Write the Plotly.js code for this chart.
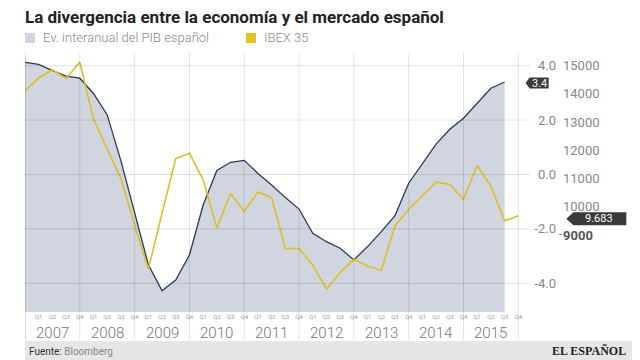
<!DOCTYPE html>
<html><head><meta charset="utf-8">
<script src="https://cdn.plot.ly/plotly-3.0.1.min.js"></script>
<style>html,body{margin:0;padding:0;background:#fff}#chart{width:640px;height:360px}</style>
</head><body><div id="chart"></div>
<script>
// ---- data ----
const periods = ['2006-T4',
  '2007-T1','2007-T2','2007-T3','2007-T4','2008-T1','2008-T2','2008-T3','2008-T4',
  '2009-T1','2009-T2','2009-T3','2009-T4','2010-T1','2010-T2','2010-T3','2010-T4',
  '2011-T1','2011-T2','2011-T3','2011-T4','2012-T1','2012-T2','2012-T3','2012-T4',
  '2013-T1','2013-T2','2013-T3','2013-T4','2014-T1','2014-T2','2014-T3','2014-T4',
  '2015-T1','2015-T2','2015-T3','2015-T4'];
const years = ['2007','2008','2009','2010','2011','2012','2013','2014','2015'];
// Ev. interanual del PIB español (%), 2006-T4 .. 2015-T3
const pib = [4.12,4.05,3.82,3.62,3.54,2.98,2.19,0.5,-1.4,-3.32,-4.27,-3.88,-2.96,-1.12,0.15,0.45,0.52,
  0.04,-0.39,-0.85,-1.27,-2.16,-2.47,-2.71,-3.14,-2.65,-2.10,-1.51,-0.32,0.41,1.12,1.66,2.07,2.62,3.17,3.4];
// IBEX 35, 2006-T4 .. 2015-T4
const ibex = [14100,14560,14850,14540,15120,13100,12050,11000,9350,7790,9770,11700,11890,10950,9250,10470,9830,
  10520,10320,8520,8520,7930,7080,7670,8140,7900,7750,9320,9910,10380,10870,10790,10260,11460,10730,9500,9683];
const pibTicks = [-4,-2,0,2,4];
const ibexTicks = [9000,10000,11000,12000,13000,14000,15000];
const seriesNames = ['Ev. interanual del PIB español','IBEX 35'];

// ---- layout helpers ----
const plotL=25, plotR=630, plotT=53, plotB=312;
const pW = plotR-plotL, pH = plotB-plotT;
const pxPerQ = 13.703;
const xMax = pW/pxPerQ;
const gridEndX = (530-plotL)/pxPerQ;
const pibRange = [-5.055, 4.467];
const ibexRange = [6272, 15443];
const pyPaper = px => (plotB-px)/pH;
const pxPaper = px => (px-plotL)/pW;

const xIdx = periods.map((p,i)=>i);
const xPib = xIdx.slice(0,pib.length);
const qLabels = periods.map(p=>'Q'+p.slice(-1));
const fmtES = v => String(v).replace(/\B(?=(\d{3})+(?!\d))/g,'.');

const colPib='#2c3a56', fillPib='#d0d5df', colIbex='#dcbf28';
const FONT='Roboto, sans-serif';

const traces = [
  {x:xPib, y:xPib.map(()=>pibRange[0]), type:'scatter', mode:'lines', line:{width:0,color:'rgba(0,0,0,0)'}, hoverinfo:'skip', showlegend:false},
  {x:xPib, y:pib, name:seriesNames[0], type:'scatter', mode:'lines', fill:'tonexty', fillcolor:fillPib,
   line:{color:colPib,width:1.3}, showlegend:false},
  {x:xIdx, y:ibex, name:seriesNames[1], yaxis:'y2', type:'scatter', mode:'lines',
   line:{color:colIbex,width:1.6}, showlegend:false}
];

const shapes = [];
// footer band
shapes.push({type:'rect', xref:'paper', yref:'paper', x0:0, x1:pxPaper(632), y0:pyPaper(341), y1:pyPaper(360),
  fillcolor:'#e6e6e6', line:{width:0}, layer:'below'});
// horizontal grid
pibTicks.forEach(t=>shapes.push({type:'line', xref:'x', yref:'y', x0:0, x1:gridEndX, y0:t, y1:t,
  line:{color:'rgba(0,0,0,0.11)', width:1}, layer:'above'}));
// vertical year boundaries
for(let i=0;i<=years.length;i++){
  shapes.push({type:'line', xref:'x', yref:'paper', x0:i*4, x1:i*4, y0:pyPaper(340), y1:1,
    line:{color: i===0?'rgba(0,0,0,0.3)':'rgba(0,0,0,0.11)', width:1}, layer:'above'});
}
// legend squares
shapes.push({type:'rect', xref:'paper', yref:'paper', x0:pxPaper(25), x1:pxPaper(35), y0:pyPaper(43), y1:pyPaper(33), fillcolor:fillPib, line:{width:0}});
shapes.push({type:'rect', xref:'paper', yref:'paper', x0:pxPaper(246), x1:pxPaper(256), y0:pyPaper(43), y1:pyPaper(33), fillcolor:'#e2c21c', line:{width:0}});
// value tags
const lastPib = pib[pib.length-1], lastIbex = ibex[ibex.length-1];
shapes.push({type:'path', xref:'x', yref:'y', xsizemode:'pixel', ysizemode:'pixel', xanchor:pib.length-1, yanchor:lastPib,
  path:'M 21 -1 L 25 4.5 L 44 4.5 L 44 -6.5 L 25 -6.5 Z', fillcolor:'#3a3a3a', line:{width:0}, layer:'above'});
shapes.push({type:'path', xref:'x', yref:'y2', xsizemode:'pixel', ysizemode:'pixel', xanchor:ibex.length-1, yanchor:lastIbex,
  path:'M 48 -3 L 55 3.5 L 108 3.5 L 108 -9.5 L 55 -9.5 Z', fillcolor:'#3a3a3a', line:{width:0}, layer:'above'});

const annotations = [];
years.forEach((y,i)=>annotations.push({xref:'x', yref:'paper', x:i*4+2, y:pyPaper(333), text:y, showarrow:false,
  xanchor:'center', yanchor:'middle', font:{family:FONT, size:15, weight:300, color:'#777'}}));
annotations.push({xref:'paper', yref:'paper', x:pxPaper(41), y:pyPaper(38), text:seriesNames[0], showarrow:false,
  xanchor:'left', yanchor:'middle', font:{family:FONT, size:13, weight:300, color:'#888'}});
annotations.push({xref:'paper', yref:'paper', x:pxPaper(262), y:pyPaper(38), text:seriesNames[1], showarrow:false,
  xanchor:'left', yanchor:'middle', font:{family:FONT, size:13, weight:300, color:'#888'}});
annotations.push({xref:'x', yref:'y', x:pib.length-1, y:lastPib, xshift:34.5, yshift:-1, text:lastPib.toFixed(1), showarrow:false,
  xanchor:'center', yanchor:'middle', font:{family:FONT, size:11, color:'#fff'}});
annotations.push({xref:'x', yref:'y2', x:ibex.length-1, y:lastIbex, xshift:81, yshift:-3, text:fmtES(lastIbex), showarrow:false,
  xanchor:'center', yanchor:'middle', font:{family:FONT, size:11, color:'#fff'}});
annotations.push({xref:'paper', yref:'y2', x:pxPaper(564), y:9000, text:'-', showarrow:false,
  xanchor:'right', yanchor:'middle', font:{family:FONT, size:11, color:'#555'}});
annotations.push({xref:'paper', yref:'paper', x:pxPaper(27), y:pyPaper(351), text:'<span style="color:#333">Fuente:</span> Bloomberg',
  showarrow:false, xanchor:'left', yanchor:'middle', font:{family:FONT, size:10, color:'#888'}});
annotations.push({xref:'paper', yref:'paper', x:pxPaper(628), y:pyPaper(351), text:'EL ESPAÑOL',
  showarrow:false, xanchor:'right', yanchor:'middle', font:{family:'"Liberation Serif", serif', size:12, weight:700, color:'#222'}});

const layout = {
  width:640, height:360,
  margin:{l:plotL, r:640-plotR, t:plotT, b:360-plotB, pad:0},
  paper_bgcolor:'#fff', plot_bgcolor:'rgba(0,0,0,0)',
  showlegend:false,
  title:{text:'La divergencia entre la economía y el mercado español', xref:'container', yref:'container',
    x:25/640, xanchor:'left', y:1-17/360, yanchor:'middle',
    font:{family:FONT, size:17, weight:700, color:'#222'}},
  xaxis:{range:[0,xMax], domain:[0,1], tickvals:xIdx.slice(1), ticktext:qLabels.slice(1),
    tickfont:{family:FONT, size:6, color:'#999'}, showgrid:false, zeroline:false, showline:false, ticks:'', fixedrange:true},
  yaxis:{range:pibRange, anchor:'free', position:pxPaper(556), side:'left', tickvals:pibTicks,
    ticktext:pibTicks.map(t=>t.toFixed(1)), tickfont:{family:FONT, size:13, color:'#888'},
    showgrid:false, zeroline:false, showline:false, ticks:''},
  yaxis2:{range:ibexRange, overlaying:'y', anchor:'free', position:pxPaper(562), side:'right', tickvals:ibexTicks,
    ticktext:ibexTicks.map(t=>t===9000?'<b style="color:#555">'+t+'</b>':String(t)),
    tickfont:{family:FONT, size:13, color:'#888'}, showgrid:false, zeroline:false, showline:false, ticks:''},
  shapes, annotations
};
Plotly.newPlot('chart', traces, layout, {displayModeBar:false, staticPlot:true});
</script></body></html>
